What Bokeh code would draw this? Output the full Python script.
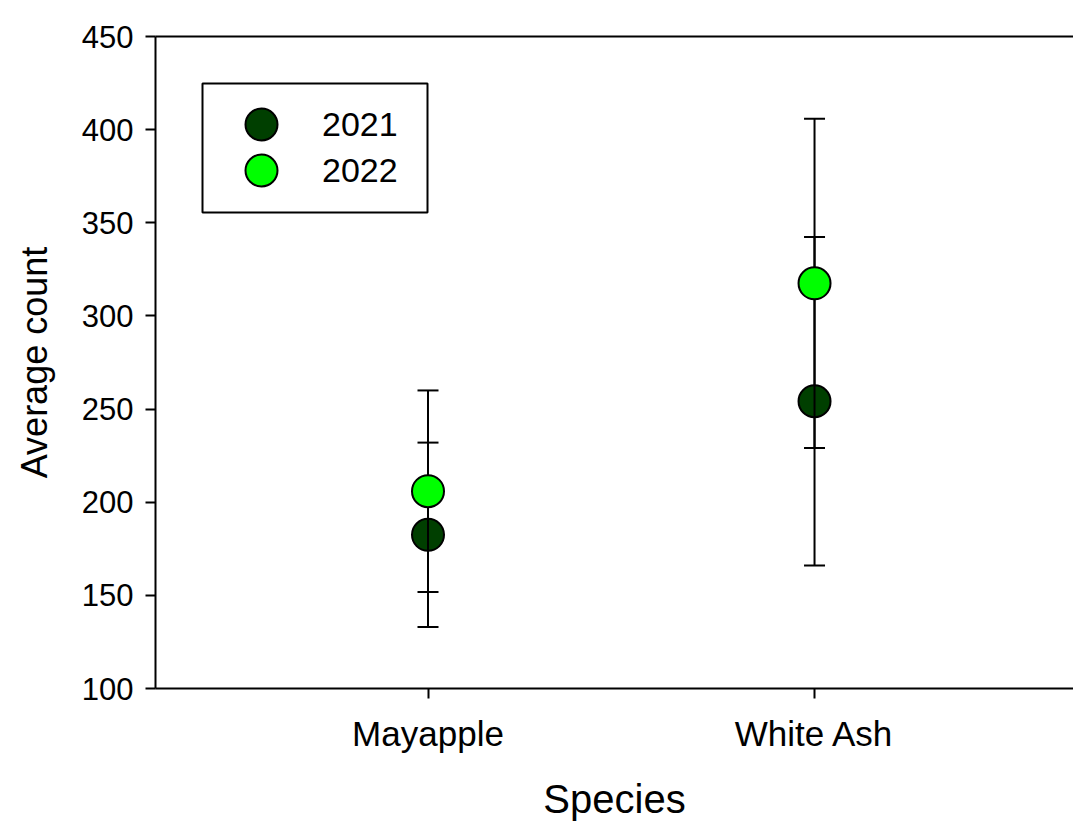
from bokeh.plotting import figure
from bokeh.models import (Range1d, FixedTicker, LinearAxis, Legend, LegendItem,
                          ColumnDataSource, BoxAnnotation)
from bokeh.embed import file_html
from bokeh.resources import INLINE

species = ["Mayapple", "White Ash"]
mean_2021 = [182.5, 254.2]
err_2021 = [49.5, 88.2]
mean_2022 = [205.9, 317.5]
err_2022 = [54.1, 88.4]
years = ["2021", "2022"]
colors = ["#003f00", "#00ff00"]
y_ticks = [100, 150, 200, 250, 300, 350, 400, 450]

FONT = "Liberation Sans"
xpos = [i + 1 for i in range(len(species))]

def src(means, errs):
    return ColumnDataSource(dict(
        x=xpos, y=means,
        lo=[m - e for m, e in zip(means, errs)],
        hi=[m + e for m, e in zip(means, errs)],
    ))

s21 = src(mean_2021, err_2021)
s22 = src(mean_2022, err_2022)

p = figure(width=1073, height=824, output_backend="svg", toolbar_location=None,
           x_range=Range1d(0.295, 2.67), y_range=Range1d(100, 450),
           min_border_left=155, min_border_right=0, min_border_top=36, min_border_bottom=136)
p.grid.visible = False
p.outline_line_color = None
p.background_fill_color = "white"
p.border_fill_color = "white"

def errbars(s):
    p.segment(x0="x", y0="lo", x1="x", y1="hi", source=s, line_color="black", line_width=2)
    p.scatter(x="x", y="lo", source=s, marker="dash", size=21, line_color="black", line_width=2)
    p.scatter(x="x", y="hi", source=s, marker="dash", size=21, line_color="black", line_width=2)

errbars(s22)
r21 = p.scatter(x="x", y="y", source=s21, size=32, fill_color=colors[0], line_color="black", line_width=2)
errbars(s21)
r22 = p.scatter(x="x", y="y", source=s22, size=32, fill_color=colors[1], line_color="black", line_width=2)

# axes
for ax in (p.xaxis[0], p.yaxis[0]):
    ax.axis_line_width = 2
    ax.axis_line_color = "black"
    ax.major_tick_line_width = 2
    ax.major_tick_line_color = "black"
    ax.major_tick_out = 10
    ax.major_tick_in = 0
    ax.minor_tick_line_color = None
    ax.major_label_text_font = FONT
    ax.major_label_text_color = "black"
    ax.axis_label_text_font = FONT
    ax.axis_label_text_font_style = "normal"
    ax.axis_label_text_color = "black"

p.yaxis.ticker = FixedTicker(ticks=y_ticks)
p.yaxis.major_label_text_font_size = "31px"
p.yaxis.major_label_standoff = 12
p.yaxis.axis_label = "Average count"
p.yaxis.axis_label_text_font_size = "36px"
p.yaxis.axis_label_standoff = 24

p.xaxis.ticker = FixedTicker(ticks=xpos)
p.xaxis.major_label_overrides = {x: s for x, s in zip(xpos, species)}
p.xaxis.major_label_text_font_size = "35px"
p.xaxis.major_label_standoff = 15
p.xaxis.axis_label = "Species"
p.xaxis.axis_label_text_font_size = "40px"
p.xaxis.axis_label_standoff = 21

top = LinearAxis(ticker=FixedTicker(ticks=[]), axis_line_width=2, axis_line_color="black",
                 major_label_text_font_size="0px", major_tick_line_color=None,
                 minor_tick_line_color=None)
p.add_layout(top, "above")

# legend frame
box = BoxAnnotation(left=47, right=272, bottom=476, top=605,
                    left_units="screen", right_units="screen",
                    bottom_units="screen", top_units="screen",
                    fill_color="white", fill_alpha=1.0,
                    line_color="black", line_alpha=1.0, line_width=2, level="annotation")
p.add_layout(box)

def one_legend(label, r, vx, vy):
    lg = Legend(items=[LegendItem(label=label, renderers=[r])],
                location=(vx, vy), margin=0, padding=0, spacing=0,
                glyph_width=114, glyph_height=80, label_standoff=4, label_width=80,
                label_text_font=FONT, label_text_font_size="34px", label_text_color="black",
                border_line_color=None, background_fill_alpha=0.0)
    p.add_layout(lg, "center")

one_legend(years[0], r21, 49, 524)
one_legend(years[1], r22, 49, 478)

open("out.html", "w").write(file_html(p, INLINE))
